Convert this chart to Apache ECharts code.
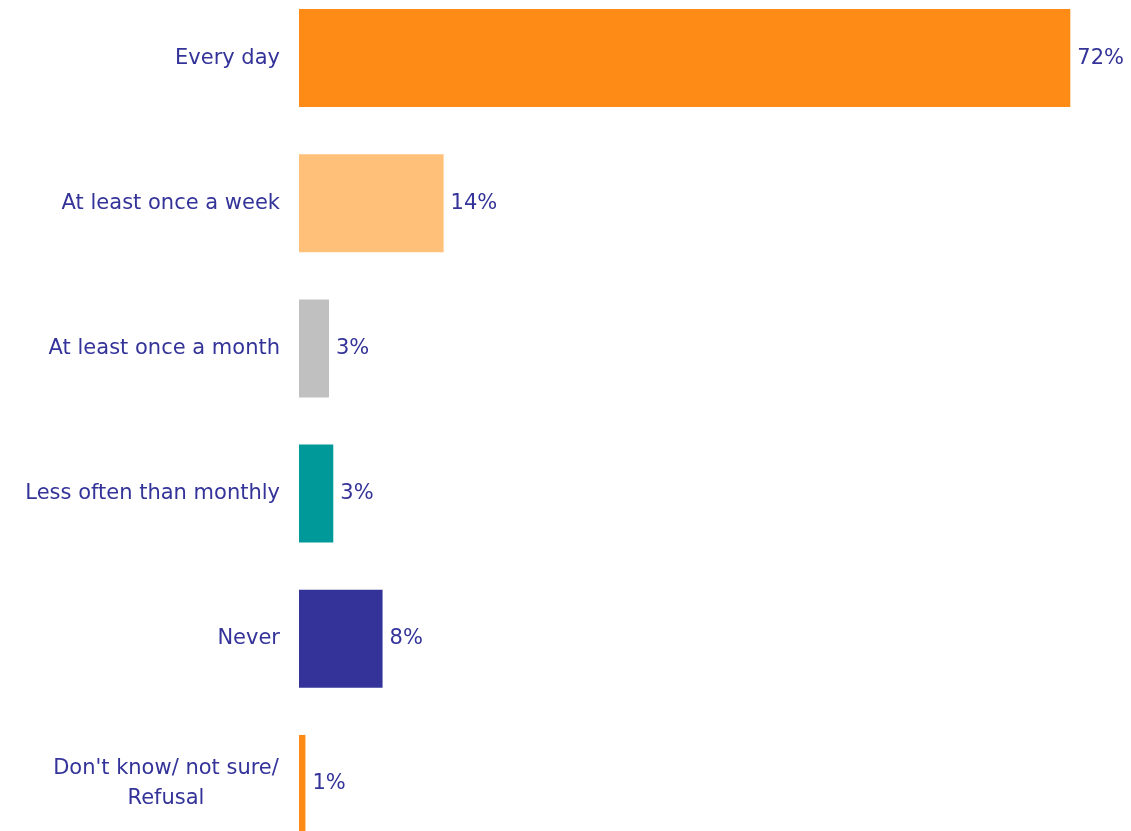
<!DOCTYPE html>
<html>
<head>
<meta charset="utf-8">
<script src="https://cdn.jsdelivr.net/npm/echarts@6/dist/echarts.min.js"></script>
<style>
  html, body { margin: 0; padding: 0; background: #fff; }
  #chart { width: 1131px; height: 831px; }
</style>
</head>
<body>
<div id="chart"></div>
<script>
const categories = [
  'Every day',
  'At least once a week',
  'At least once a month',
  'Less often than monthly',
  'Never',
  "Don't know/ not sure/\nRefusal"
]
const values = [72, 13.5, 2.8, 3.2, 7.8, 0.6]
const barColors = ['#FF8B17', '#FFC07A', '#C0C0C0', '#009999', '#333399', '#FF8B17']
const textColor = '#333399'
const font = 'DejaVu Sans, Arial, sans-serif'

const chart = echarts.init(document.getElementById('chart'))

chart.setOption({
  animation: false,
  grid: { left: 299, top: -14.5, width: 857, height: 871, outerBoundsMode: 'none', containLabel: false },
  xAxis: { type: 'value', min: 0, max: 80, show: false },
  yAxis: {
    type: 'category',
    inverse: true,
    data: categories,
    axisLine: { show: false },
    axisTick: { show: false },
    axisLabel: {
      margin: 19,
      color: textColor,
      fontFamily: font,
      fontSize: 21,
      lineHeight: 30,
      formatter: (v) => v.indexOf('\n') >= 0
        ? v.split('\n').map(s => '{c|' + s + '}').join('\n')
        : v,
      rich: {
        c: { width: 228, align: 'center', color: textColor, fontSize: 21, lineHeight: 30,
             fontFamily: font }
      }
    }
  },
  series: [{
    type: 'bar',
    barCategoryGap: '32.5%',
    data: values.map((v, i) => ({ value: v, itemStyle: { color: barColors[i] } })),
    label: {
      show: true,
      position: 'right',
      distance: 7,
      color: textColor,
      fontFamily: font,
      fontSize: 21,
      formatter: (p) => Math.round(p.value) + '%'
    }
  }]
})
</script>
</body>
</html>
